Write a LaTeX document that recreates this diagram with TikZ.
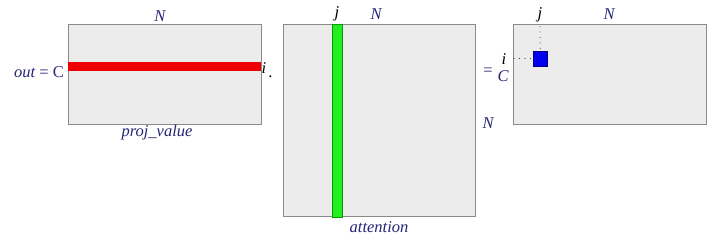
\documentclass[tikz,border=0pt]{standalone}
\usepackage{fontspec}
\setmainfont{Liberation Serif}
\begin{document}
\begin{tikzpicture}[x=1pt,y=-1pt,
  lbl/.style={text=navy,font=\fontsize{16.5}{19}\selectfont\itshape,inner sep=0pt},
  idx/.style={text=black,font=\fontsize{16.5}{19}\selectfont\itshape,inner sep=0pt},
  matbox/.style={draw=boxgray,fill=boxfill,line width=0.9pt,inner sep=0pt,outer sep=0pt,anchor=north west},
  dots/.style={draw=black!75,line width=1.1pt,line cap=round,dash pattern=on 0pt off 5.5pt}]
\definecolor{navy}{HTML}{262678}
\definecolor{boxgray}{HTML}{8A8A8A}
\definecolor{boxfill}{HTML}{ECECEC}
\definecolor{redbar}{HTML}{EE0000}
\definecolor{greenbar}{HTML}{22EE22}
\definecolor{bluesq}{HTML}{0000EE}
\useasboundingbox[fill=white] (0,0) rectangle (720,241);
% matrix 1
\node[matbox,minimum width=193pt,minimum height=100pt] (A) at (68,24) {};
\node[fill=redbar,inner sep=0pt,minimum width=193pt,minimum height=9.5pt,anchor=north west] (R) at (68,61.5) {};
\node[lbl] (AN) at (160,16) {N};
\node[lbl,anchor=east] (out) at (64,72) {out \upshape{=} C};
\node[idx] (Ai) at (264,68) {i};
\node[inner sep=0pt,font=\fontsize{16.5}{19}\selectfont] (dot) at (270.5,77) {.};
\node[lbl] (pv) at (157,133) {proj\_value};
% matrix 2
\node[matbox,minimum width=192pt,minimum height=192.5pt] (B) at (283,24) {};
\node[draw=green!60!black,line width=0.6pt,fill=greenbar,inner sep=0pt,minimum width=9.5pt,minimum height=192.5pt,anchor=north west] (G) at (332,24) {};
\node[idx] (Bj) at (337,14) {j};
\node[lbl] (BN) at (376,14) {N};
\node[lbl] (att) at (379,227) {attention};
\node[lbl] (BN2) at (488,123) {N};
% equals
\node[inner sep=0pt,text=navy,font=\fontsize{16.5}{19}\selectfont] (eq) at (488,72) {=};
\node[idx] (Ci) at (504,59) {i};
\node[lbl] (CC) at (503,76) {C};
% matrix 3
\node[matbox,minimum width=193pt,minimum height=100pt] (Cm) at (513,24) {};
\node[draw=blue!50!black,line width=0.6pt,fill=bluesq,inner sep=0pt,minimum width=14pt,minimum height=14.5pt,anchor=north west] (S) at (533,51) {};
\node[idx] (Cj) at (540,15) {j};
\node[lbl] (CN) at (609,14) {N};
\coordinate (hd) at (514,58.5);
\draw[dots] (Cj.south) ++(0,4) -- (S.north);
\draw[dots] (hd) -- (S.west);
\end{tikzpicture}
\end{document}
